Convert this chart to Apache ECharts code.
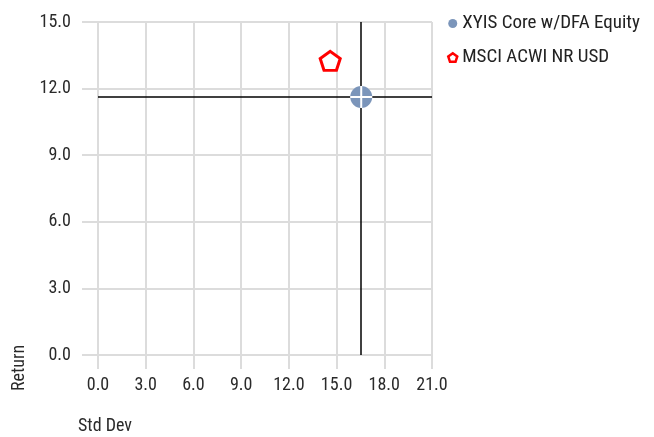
<!DOCTYPE html>
<html><head><meta charset="utf-8">
<script src="https://cdn.jsdelivr.net/npm/echarts@6/dist/echarts.min.js"></script>
<style>html,body{margin:0;padding:0;background:#fff}#c{width:654px;height:437px}</style>
</head><body><div id="c"></div>
<script>
const seriesNames = ['XYIS Core w/DFA Equity', 'MSCI ACWI NR USD'];
const stdDev = [16.55, 14.6];
const returns = [11.62, 13.25];
const xTicks = [0, 21, 3];
const yTicks = [0, 15, 3];
const FONT = '"Liberation Sans Narrow", "Roboto Condensed", Roboto, sans-serif';
const pent = 'path://M0,-10 L9.51,-3.09 L5.88,8.09 L-5.88,8.09 L-9.51,-3.09 Z';
const chart = echarts.init(document.getElementById('c'));
chart.setOption({
  animation: false,
  textStyle: {fontFamily: FONT},
  grid: {left: 98, top: 22, right: 222, bottom: 82},
  legend: {
    orient: 'vertical', left: 442, top: 9, itemGap: 15, itemWidth: 9, itemHeight: 9,
    data: [
      {name: seriesNames[0], itemStyle: {color: '#7b95ba'}},
      {name: seriesNames[1], itemStyle: {color: '#fff', borderColor: '#f00', borderWidth: 2.5}}
    ],
    textStyle: {fontFamily: FONT, fontSize: 19, color: '#222'}
  },
  xAxis: {
    type: 'value', min: xTicks[0], max: xTicks[1], interval: xTicks[2],
    axisLine: {show: false},
    axisTick: {show: true, length: 14, lineStyle: {color: '#dcdcdc', width: 2}},
    splitLine: {lineStyle: {color: '#dcdcdc', width: 2}},
    axisLabel: {margin: 21, fontSize: 18, color: '#2a2a2a', fontFamily: FONT, formatter: v => v.toFixed(1)}
  },
  yAxis: {
    type: 'value', min: yTicks[0], max: yTicks[1], interval: yTicks[2],
    axisLine: {show: false},
    axisTick: {show: true, length: 16, lineStyle: {color: '#dcdcdc', width: 2}},
    splitLine: {lineStyle: {color: '#dcdcdc', width: 2}},
    axisLabel: {margin: 27, fontSize: 18, color: '#2a2a2a', fontFamily: FONT, formatter: v => v.toFixed(1)}
  },
  graphic: [
    {type: 'text', left: 78, top: 417, style: {text: 'Std Dev', font: '18px ' + FONT, fill: '#2a2a2a'}},
    {type: 'text', x: 10, y: 391, rotation: Math.PI / 2, style: {text: 'Return', font: '18px ' + FONT, fill: '#2a2a2a'}}
  ],
  series: [
    {
      name: seriesNames[0], type: 'scatter', z: 3,
      data: [[stdDev[0], returns[0]]],
      symbol: 'circle', symbolSize: 22,
      itemStyle: {color: '#7b95ba', opacity: 1},
      markLine: {
        silent: true, symbol: 'none', label: {show: false}, z: 2,
        lineStyle: {color: '#000', width: 1.5, type: 'solid'},
        data: [{xAxis: stdDev[0]}, {yAxis: returns[0]}]
      }
    },
    {
      name: seriesNames[0] + ' cross', type: 'scatter', z: 4, silent: true,
      data: [[stdDev[0], returns[0]]],
      symbol: 'path://M-1,-11h2v22h-2z M-11,-1h22v2h-22z', symbolSize: 22,
      itemStyle: {color: '#fff', opacity: 1}
    },
    {
      name: seriesNames[1], type: 'scatter', z: 3,
      data: [[stdDev[1], returns[1]]],
      symbol: pent, symbolSize: [20, 19],
      itemStyle: {color: '#fff', borderColor: '#f00', borderWidth: 3, opacity: 1}
    }
  ]
});
</script></body></html>
